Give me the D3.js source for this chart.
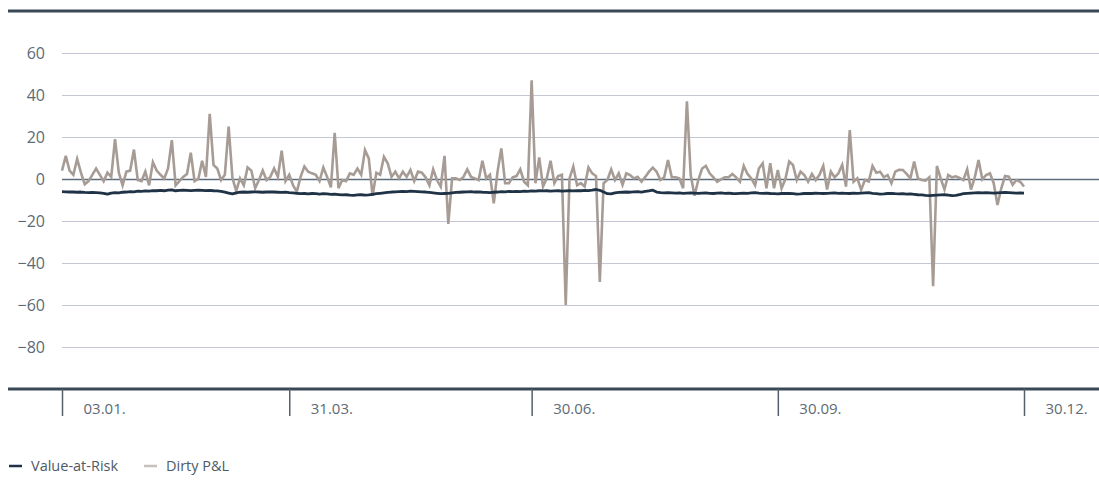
<!DOCTYPE html>
<html>
<head>
<meta charset="utf-8">
<script src="https://cdn.jsdelivr.net/npm/d3@7"></script>
<style>
  body { margin: 0; background: #fff; }
  svg text { font-family: "Open Sans", sans-serif; }
</style>
</head>
<body>
<script>
// Dirty P&L, one value per trading day
var pnl = [
  4, 11, 4, 2, 9.5, 3, -2.5, -1, 2, 5, 2, -1, 3, 1, 19,
  3, -3, 3.5, 4, 14,
  -0.5, -1, 3.5, -3, 8, 4, 2, 0.3, 5, 18.5,
  -3, -1, 1, 2.4, 12.5,
  -1, 0, 8.7, 1, 31,
  6.7, 5, -0.5, 2, 25,
  0.5, -5.7, 0.3, -3, 5.5, 4, -4.4, -0.5, 4, -0.5, 1, 5, 1, 13.5,
  -1, 2, -3, -6, 1, 6, 3.5, 2.7, 2, -1, 5.5, 1, -4, 22,
  -4.4, -0.5, -1, 2.7, 2, 5, 2, 13.8,
  9.8, -8, 3, 2, 10.6,
  7.5, 1, 3.5, 0.3, 3.5, 1, 4.3, -1, 3.5, 3, 0.8, -3, 4.6, -0.5, -3.7, 11, -21.4,
  0.3, 0.3, -0.5, 1, 4.6, 1, 0.3, -0.5, 8.7, 0.3, 2, -11.6, 3.5, 14.6,
  -2, -2, 0.8, 1.4, 4.6, -1.3, -3, 47,
  -2, 10.3, -3.6, 0.3, 8.7, -2, 1.4, 2, -60,
  0.3, 5.9, -3, -2, -3.6, 5.5, 2.7, 1.4, -49,
  -2, -0.5, 4.6, -0.5, 2.7, -2.8, 2.7, 1.9, 0.3, 1, -1.3, 1, 3.5, 5.4, 3.5, -0.5, 0.8, 9, 0.8, 0.8, 0.3, -4.4, 37,
  1.9, -8, -0.5, 5, 6.2, 2.7, 0.8, -1.3, -0.2, 0.8, 0.8, 2.4, 0.8, -1.3, 6.2, 2.4, 0.3, -3, 5, 7.5, -4.4,
  7.5, -4.4, 4.3, -4.4, 0, 8.3, 6.7, -0.5, 3.5, 1.9, -1.3, 2.4, -0.5, 2, 6.2, -5, 3.5, 0.8, 2.7, 6.7, -3.6, 23.3,
  -1.3, 0.3, -5.2, -0.5, -1.2, 6.2, 3, 3.5, 0.8, 1.9, -2, 3.5, 4.4, 4.3, 2.4, 0.3, 8.3, 0.3, -0.5, -0.8, 0.8, -51,
  6.2, 0.3, -5, 1.9, 0.8, 1.3, 0.5, -0.5, 4.6, -5, 0.8, 9, -0.2, 1.9, 2.7, -2, -12.4,
  -4.4, 1.4, 1.1, -2.8, -0.5, -1.3, -3.6
];

// Value-at-Risk, same days
var valueAtRisk = [
  -6.0, -6.1, -6.2, -6.2, -6.3, -6.2, -6.4, -6.5, -6.4, -6.5, -6.6,
  -6.8, -7.2, -6.7, -6.5,
  -6.6, -6.3, -6.2, -6.0, -6.1, -5.8, -5.9, -5.7, -5.8, -5.5, -5.6, -5.4, -5.6, -5.3, -5.2,
  -5.6, -5.4, -5.3, -5.4, -5.5, -5.4, -5.3, -5.4, -5.5, -5.4, -5.6, -5.7, -5.9,
  -6.3, -6.7, -7.1, -6.6, -6.3,
  -6.2, -6.3, -6.2, -6.1, -6.2, -6.3, -6.2, -6.1, -6.2, -6.3, -6.4, -6.3, -6.5,
  -6.6, -6.8, -7.0, -6.9, -7.1, -6.9, -7.0, -7.2, -7.0, -7.1, -7.3, -7.2,
  -7.4, -7.6, -7.5, -7.7, -7.8, -7.6, -7.5, -7.7, -7.6, -7.3, -7.0, -6.8,
  -6.6, -6.4, -6.2, -6.1, -6.0, -5.9, -6.0, -5.8, -5.9, -6.0,
  -6.1, -6.2, -6.4, -6.6, -6.8, -7.0, -6.9, -6.8, -6.6, -6.4, -6.3,
  -6.2, -6.1, -6.0, -6.2, -6.1, -6.3, -6.4, -6.5, -6.3, -6.2, -6.0, -6.1, -5.9, -6.0, -5.9, -6.0, -5.8, -5.9,
  -5.7, -5.8, -5.6, -5.7, -5.6, -5.8, -5.7, -5.6, -5.8, -5.7, -5.6, -5.7, -5.5, -5.6, -5.4, -5.5, -5.3,
  -5.0, -5.4, -6.2, -7.0, -7.1, -6.6,
  -6.4, -6.3, -6.2, -6.3, -6.1, -6.0, -6.2, -5.9, -5.6,
  -5.3, -6.2, -6.5, -6.6, -6.5,
  -6.6, -6.7, -6.6, -6.8, -6.7, -6.6, -6.7, -6.8, -6.7, -6.6, -6.8, -6.9, -6.7, -6.6, -6.8,
  -6.7, -6.9, -7.0, -6.8, -6.7, -6.8, -6.6, -6.5, -6.7, -6.8, -6.7, -6.9, -7.0, -7.1, -6.9,
  -6.8, -6.9, -7.0, -7.2, -7.1, -6.9, -6.8, -6.9, -6.7, -6.8, -6.9, -6.8, -6.7, -6.6, -6.8, -6.7,
  -6.8, -6.9, -6.7, -6.8, -6.7, -6.6, -6.5, -6.8, -7.0, -7.2, -7.1, -6.9, -6.8, -7.0, -7.1, -7.0,
  -7.2, -7.1, -7.3, -7.5, -7.6, -7.8, -7.9, -7.8, -7.7, -7.6, -7.5, -7.7, -7.9, -7.8, -7.4, -7.0,
  -6.8, -6.7, -6.6, -6.5, -6.6, -6.5, -6.6, -6.7, -6.6, -6.5, -6.4, -6.5, -6.6, -6.7, -6.6, -6.7
];

// x-axis: day index of each label
var tickDays = [0, 60, 124, 189, 254];
var tickLabels = ["03.01.", "31.03.", "30.06.", "30.09.", "30.12."];

var yTicks = [60, 40, 20, 0, -20, -40, -60, -80];

var legendItems = [
  { name: "Value-at-Risk", color: "#1f3246" },
  { name: "Dirty P&L", color: "#c6c0bb" }
];

var width = 1099, height = 484;

var svg = d3.select("body").append("svg")
  .attr("width", width)
  .attr("height", height);

var xScale = d3.scaleLinear()
  .domain([0, pnl.length - 1])
  .range([62, 1024]);

var yScale = d3.scaleLinear()
  .domain([-100, 80])
  .range([389, 11]);

// gridlines + y labels
var yAxis = d3.axisLeft(yScale)
  .tickValues(yTicks)
  .tickSize(-(width - 62))
  .tickPadding(17)
  .tickFormat(function(d) { return d < 0 ? "\u2212" + Math.abs(d) : d; });

var yGroup = svg.append("g")
  .attr("transform", "translate(62, 0)")
  .call(yAxis);
yGroup.select(".domain").remove();
yGroup.selectAll(".tick line")
  .attr("stroke", function(d) { return d === 0 ? "#5d6d7c" : "#c3c8d4"; })
  .attr("stroke-width", function(d) { return d === 0 ? 1.3 : 1; });
yGroup.selectAll(".tick text")
  .attr("fill", "#5e6a76")
  .style("font-size", "16px");

// top and bottom frame lines
svg.append("line")
  .attr("x1", 8).attr("x2", width)
  .attr("y1", yScale(80)).attr("y2", yScale(80))
  .attr("stroke", "#3a4856").attr("stroke-width", 3);
svg.append("line")
  .attr("x1", 8).attr("x2", width)
  .attr("y1", yScale(-100)).attr("y2", yScale(-100))
  .attr("stroke", "#3a4856").attr("stroke-width", 3);

// x axis ticks below the frame
var xAxis = d3.axisBottom(xScale)
  .tickValues(tickDays)
  .tickSize(27)
  .tickFormat(function(d, i) { return tickLabels[i]; });

var xGroup = svg.append("g")
  .attr("transform", "translate(0, " + yScale(-100) + ")")
  .call(xAxis);
xGroup.select(".domain").remove();
xGroup.selectAll(".tick line")
  .attr("stroke", "#555f69")
  .attr("stroke-width", 1.5);
xGroup.selectAll(".tick text")
  .attr("fill", "#5e6a76")
  .attr("text-anchor", "start")
  .attr("x", 21)
  .attr("y", 14)
  .style("font-size", "15px");

// series
var line = function(values) {
  return d3.line()
    .x(function(d, i) { return xScale(i); })
    .y(function(d) { return yScale(d); })(values);
};

svg.append("path")
  .attr("d", line(pnl))
  .attr("fill", "none")
  .attr("stroke", "#a79c95")
  .attr("stroke-width", 2.6)
  .attr("stroke-linejoin", "miter")
  .attr("stroke-miterlimit", 4);

svg.append("path")
  .attr("d", line(valueAtRisk))
  .attr("fill", "none")
  .attr("stroke", "#1f3246")
  .attr("stroke-width", 2.8)
  .attr("stroke-linejoin", "round");

// legend
var legendX = [9, 144];
var legend = svg.selectAll("g.legend")
  .data(legendItems)
  .enter()
  .append("g")
  .attr("class", "legend")
  .attr("transform", function(d, i) { return "translate(" + legendX[i] + ", 466)"; });

legend.append("line")
  .attr("x1", 0).attr("x2", 13)
  .attr("stroke", function(d) { return d.color; })
  .attr("stroke-width", 2.5);

legend.append("text")
  .attr("x", 22)
  .attr("dy", "0.35em")
  .attr("fill", "#4e5a66")
  .style("font-size", "14.5px")
  .text(function(d) { return d.name; });
</script>
</body>
</html>
